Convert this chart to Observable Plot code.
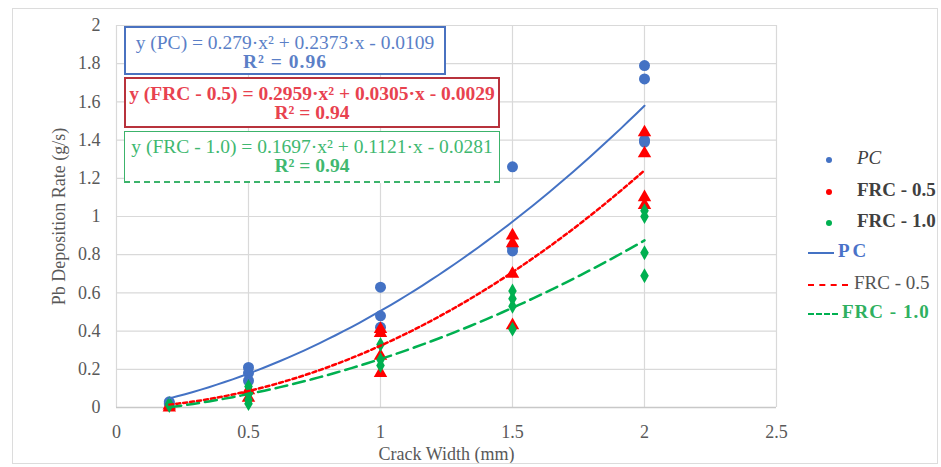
<!DOCTYPE html>
<html><head><meta charset="utf-8">
<script src="https://cdn.jsdelivr.net/npm/d3@7"></script>
<script src="https://cdn.jsdelivr.net/npm/@observablehq/plot@0.6"></script>
<style>
body{margin:0;background:#fff;font-family:"Liberation Serif","Times New Roman",serif;}
#wrap{position:relative;width:941px;height:467px;overflow:hidden;background:#fff;}
#chart{position:absolute;left:0;top:0;}
#frame{position:absolute;left:12px;top:8px;width:926px;height:456px;border:1px solid #dcdcdc;box-sizing:border-box;pointer-events:none;}
.eq{position:absolute;box-sizing:border-box;text-align:center;font-size:19.5px;line-height:19px;background:#fff;padding-top:5px;white-space:nowrap;}
.leg{position:absolute;font-size:19px;color:#404040;white-space:nowrap;}
.ldot{position:absolute;width:6px;height:6px;border-radius:50%;}
.lline{position:absolute;height:0;}
</style>
</head><body>
<div id="wrap"><div id="chart"></div><div id="frame"></div></div>
<script>
// ---- data ----
const xTicks = [0, 0.5, 1, 1.5, 2, 2.5];
const yTicks = [0, 0.2, 0.4, 0.6, 0.8, 1, 1.2, 1.4, 1.6, 1.8, 2];

const pcX = [0.2,0.2, 0.5,0.5,0.5, 1,1,1, 1.5,1.5,1.5, 2,2,2,2];
const pcY = [0.02,0.03, 0.21,0.18,0.14, 0.63,0.48,0.42, 1.26,0.84,0.82, 1.79,1.72,1.40,1.39];

const frc05X = [0.2,0.2, 0.5,0.5, 1,1,1,1, 1.5,1.5,1.5,1.5, 2,2,2,2];
const frc05Y = [0.00,0.01, 0.09,0.05, 0.41,0.39,0.27,0.18, 0.90,0.86,0.70,0.43, 1.44,1.33,1.10,1.06];

const frc10X = [0.2,0.2, 0.5,0.5,0.5,0.5, 1,1,1, 1.5,1.5,1.5,1.5, 2,2,2,2];
const frc10Y = [0.01,0.02, 0.11,0.07,0.04,0.02, 0.33,0.25,0.22, 0.61,0.57,0.53,0.41, 1.03,1.00,0.81,0.69];

// polynomial trendline coefficients (a, b, c) shown in the chart
const trendPC = [0.279, 0.2373, -0.0109];
const trend05 = [0.2959, 0.0305, -0.0029];
const trend10 = [0.1697, 0.1121, -0.0281];
const trendRange = [0.2, 2];

const seriesNames = ["PC", "FRC - 0.5", "FRC - 1.0"];
const seriesColors = ["#4472C4", "#FF0000", "#00B050"];

// ---- build tables ----
const pts = (xs, ys) => xs.map((x, i) => ({x, y: ys[i]}));
const trend = (co) => {
  const out = [];
  const n = 60;
  for (let i = 0; i <= n; i++) {
    const x = trendRange[0] + (trendRange[1] - trendRange[0]) * i / n;
    out.push({x, y: co[0]*x*x + co[1]*x + co[2]});
  }
  return out;
};

const chart = Plot.plot({
  width: 941, height: 467,
  marginLeft: 116, marginRight: 165, marginTop: 25, marginBottom: 60,
  style: {fontFamily: "'Liberation Serif','Times New Roman',serif", fontSize: "18px", color: "#595959", background: "transparent"},
  x: {domain: [0, 2.5]},
  y: {domain: [0, 2]},
  marks: [
    Plot.gridX(xTicks, {stroke: "#d9d9d9", strokeOpacity: 1, strokeWidth: 1.2}),
    Plot.gridY(yTicks, {stroke: "#d9d9d9", strokeOpacity: 1, strokeWidth: 1.2}),
    Plot.ruleY([0], {stroke: "#c8c8c8", strokeWidth: 1.5}),
    Plot.axisX({ticks: xTicks, tickSize: 0, tickPadding: 18, tickFormat: d => String(d), fontSize: 18,
      label: "Crack Width (mm)", labelAnchor: "center", labelOffset: 52, labelArrow: "none"}),
    Plot.axisY({ticks: yTicks, tickSize: 0, tickPadding: 16, tickFormat: d => String(d), fontSize: 18,
      label: "Pb Deposition Rate (g/s)", labelAnchor: "center", labelOffset: 64, labelArrow: "none"}),
    Plot.dot(pts(pcX, pcY), {x: "x", y: "y", r: 5.5, symbol: "circle", fill: seriesColors[0]}),
    Plot.dot(pts(frc05X, frc05Y), {x: "x", y: "y", r: 5, symbol: "triangle", fill: seriesColors[1]}),
    Plot.dot(pts(frc10X, frc10Y), {x: "x", y: "y", r: 4.5, symbol: "diamond", fill: seriesColors[2]}),
    Plot.line(trend(trendPC), {x: "x", y: "y", stroke: seriesColors[0], strokeWidth: 2}),
    Plot.line(trend(trend05), {x: "x", y: "y", stroke: seriesColors[1], strokeWidth: 2.5, strokeDasharray: "4,3"}),
    Plot.line(trend(trend10), {x: "x", y: "y", stroke: seriesColors[2], strokeWidth: 2.5, strokeDasharray: "12,6"})
  ]
});
document.getElementById("chart").appendChild(chart);

const wrap = document.getElementById("wrap");
function add(html) { wrap.insertAdjacentHTML("beforeend", html); }

// equation boxes
add(`<div class="eq" style="left:124px;top:26px;width:322px;height:49px;border:2px solid #4a72c0;color:#5b7fc7;">
  y (PC) = 0.279·x² + 0.2373·x - 0.0109<br><b style="letter-spacing:1px">R² = 0.96</b></div>`);
add(`<div class="eq" style="left:124px;top:77px;width:376px;height:51px;border:2px solid #b8323c;color:#e8424f;font-weight:bold;">
  y (FRC - 0.5) = 0.2959·x² + 0.0305·x - 0.0029<br>R² = 0.94</div>`);
add(`<div class="eq" style="left:124px;top:131px;width:376px;height:52px;border:1.5px solid #3cb36b;border-bottom:2px dashed #3cb36b;color:#40b870;">
  y (FRC - 1.0) = 0.1697·x² + 0.1121·x - 0.0281<br><b>R² = 0.94</b></div>`);

// legend
add(`<div class="ldot" style="left:826px;top:157px;background:${seriesColors[0]}"></div>
<div class="leg" style="left:857px;top:147px;font-style:italic">${seriesNames[0]}</div>
<div class="ldot" style="left:826px;top:189px;background:${seriesColors[1]}"></div>
<div class="leg" style="left:857px;top:179px;font-weight:bold">${seriesNames[1]}</div>
<div class="ldot" style="left:826px;top:220px;background:${seriesColors[2]}"></div>
<div class="leg" style="left:857px;top:210px;font-weight:bold">${seriesNames[2]}</div>
<div class="lline" style="left:808px;top:252px;width:26px;border-top:2px solid ${seriesColors[0]}"></div>
<div class="leg" style="left:838px;top:240px;font-weight:bold;color:#4a72c8;letter-spacing:3px">PC</div>
<div class="lline" style="left:808px;top:284px;width:40px;border-top:2px dashed ${seriesColors[1]}"></div>
<div class="leg" style="left:854px;top:272px;color:#555">${seriesNames[1]}</div>
<div class="lline" style="left:808px;top:313px;width:30px;border-top:2.5px dashed ${seriesColors[2]}"></div>
<div class="leg" style="left:842px;top:301px;font-weight:bold;color:#2fb060;letter-spacing:1px">${seriesNames[2]}</div>`);
</script>
</body></html>
